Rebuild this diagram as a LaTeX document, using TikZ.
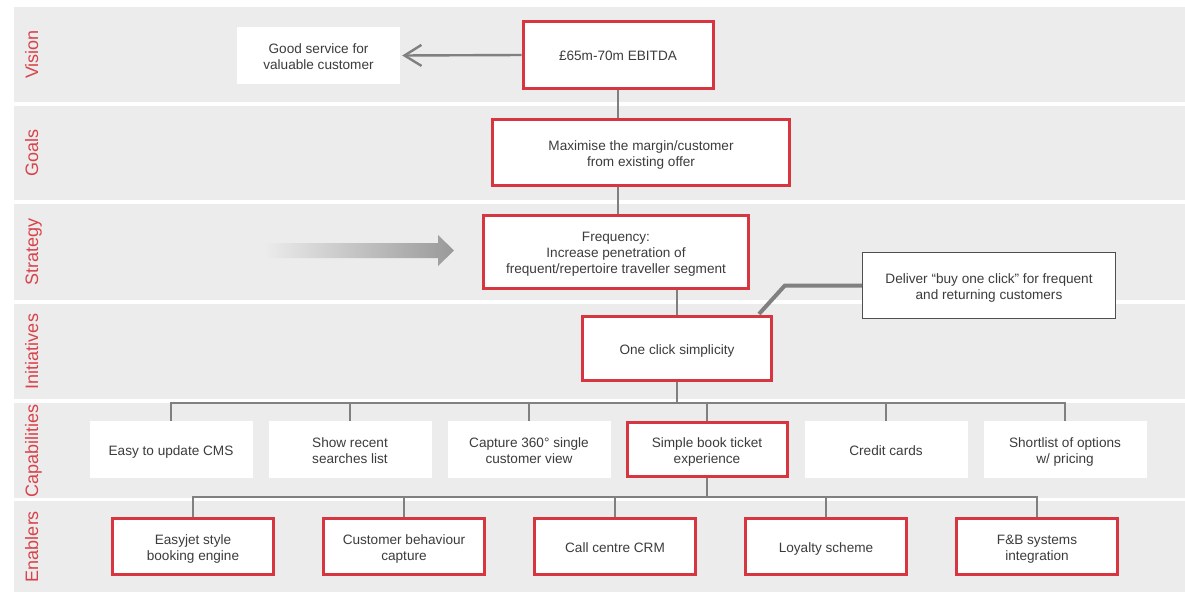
\documentclass[tikz,border=0pt]{standalone}
\usepackage{fontspec}
\setmainfont{Liberation Sans}
\usetikzlibrary{arrows.meta,calc}
\definecolor{bandgray}{HTML}{ECECEC}
\definecolor{boxred}{HTML}{D7353F}
\definecolor{lblred}{HTML}{D8434B}
\definecolor{linegray}{HTML}{808080}
\definecolor{txtgray}{HTML}{3C3C3C}
\definecolor{darkframe}{HTML}{4F4F4F}
\definecolor{arrowgray}{HTML}{999999}
% fixed height of the first text row in every box
\newcommand{\tstrut}{\rule{0pt}{14pt}}

\begin{document}
\begin{tikzpicture}[x=1pt,y=-1pt,
  band/.style={fill=bandgray,draw=none},
  lbl/.style={rotate=90,anchor=base,text=lblred,inner sep=0pt,font=\fontsize{18}{18}\selectfont},
  base/.style={align=center,text=txtgray,font=\fontsize{13.6}{16}\selectfont,fill=white,inner sep=0pt,
    execute at end node={\rule[-3pt]{0pt}{0pt}}},
  redbox/.style={base,draw=boxred,line width=3pt},
  plainbox/.style={base,draw=none},
  notebox/.style={base,draw=darkframe,line width=1.3pt},
  link/.style={draw=linegray,line width=2pt},
]
\useasboundingbox[fill=white] (0,0) rectangle (1185,592);

% layer bands
\fill[band] (14,7)   rectangle (1185,102);
\fill[band] (14,106) rectangle (1185,200);
\fill[band] (14,204) rectangle (1185,300);
\fill[band] (14,304) rectangle (1185,399);
\fill[band] (14,403) rectangle (1185,498);
\fill[band] (14,501) rectangle (1185,592);

% layer titles
\node[lbl] (lvision) at (38,54.5)  {Vision};
\node[lbl] (lgoals)  at (38,153)   {Goals};
\node[lbl] (lstrat)  at (38,252)   {Strategy};
\node[lbl] (linit)   at (38,351.5) {Initiatives};
\node[lbl] (lcap)    at (38,450.5) {Capabilities};
\node[lbl] (lenab)   at (38,546.5) {Enablers};

% vision, goals, strategy, initiatives
\node[plainbox,minimum width=163pt,minimum height=57pt] (good) at (318.5,55.5) {\tstrut Good service for\\valuable customer};
\node[redbox,minimum width=190pt,minimum height=67pt] (ebitda) at (618,55) {\tstrut £65m-70m EBITDA};
\node[redbox,minimum width=297pt,minimum height=66pt] (goals) at (641,152.5) {\tstrut Maximise the margin/customer\\from existing offer};
\node[redbox,minimum width=265pt,minimum height=73pt] (strategy) at (616,252) {\tstrut Frequency:\\Increase penetration of\\frequent/repertoire traveller segment};
\node[redbox,minimum width=189pt,minimum height=64pt] (init) at (677,348.5) {\tstrut One click simplicity};
\node[notebox,minimum width=253pt,minimum height=66pt] (deliver) at (989,285.5) {\tstrut Deliver “buy one click” for frequent\\and returning customers};

% capabilities
\node[plainbox,minimum width=163pt,minimum height=57pt] (cap1) at (171,449.5) {\tstrut Easy to update CMS};
\node[plainbox,minimum width=163pt,minimum height=57pt] (cap2) at (350,449.5) {\tstrut Show recent\\searches list};
\node[plainbox,minimum width=163pt,minimum height=57pt] (cap3) at (529,449.5) {\tstrut Capture 360° single\\customer view};
\node[redbox,minimum width=160pt,minimum height=54pt] (cap4) at (707,449.5) {\tstrut Simple book ticket\\experience};
\node[plainbox,minimum width=163pt,minimum height=57pt] (cap5) at (886,449.5) {\tstrut Credit cards};
\node[plainbox,minimum width=163pt,minimum height=57pt] (cap6) at (1065,449.5) {\tstrut Shortlist of options\\w/ pricing};

% enablers
\node[redbox,minimum width=161pt,minimum height=56pt] (en1) at (193,546.5) {\tstrut Easyjet style\\booking engine};
\node[redbox,minimum width=161pt,minimum height=56pt] (en2) at (404,546.5) {\tstrut Customer behaviour\\capture};
\node[redbox,minimum width=161pt,minimum height=56pt] (en3) at (615,546.5) {\tstrut Call centre CRM};
\node[redbox,minimum width=161pt,minimum height=56pt] (en4) at (826,546.5) {\tstrut Loyalty scheme};
\node[redbox,minimum width=161pt,minimum height=56pt] (en5) at (1037,546.5) {\tstrut F\&B systems\\integration};

% strategy direction arrow
\shade[left color=bandgray,right color=arrowgray]
  (264,243) -- (438,243) -- (438,235) -- (454,250.5) -- (438,266) -- (438,258) -- (264,258) -- cycle;

% connectors
\draw[link,line width=2.4pt,-{Straight Barb[length=17pt,width=21pt]},shorten >=2pt] (ebitda.west) -- (good.east);
\draw[link] (ebitda.south) -- (ebitda.south |- goals.north);
\draw[link] (goals.south -| ebitda.south) -- (ebitda.south |- strategy.north);
\draw[link] (strategy.south -| init.north) -- (init.north);

\coordinate (dbend) at ($(deliver.west)+(-77,0)$);
\draw[link,line width=4pt] (deliver.west) -- (dbend) -- ($(init.north east)+(-14,-1)$);

\coordinate (capbus) at (677,403);
\foreach \c in {cap1,cap2,cap3,cap4,cap5,cap6}
  \draw[link] (init.south) -- (init.south |- capbus) -| (\c.north);

\coordinate (enbus) at (707,497);
\foreach \e in {en1,en2,en3,en4,en5}
  \draw[link] (cap4.south) -- (cap4.south |- enbus) -| (\e.north);
\end{tikzpicture}
\end{document}
